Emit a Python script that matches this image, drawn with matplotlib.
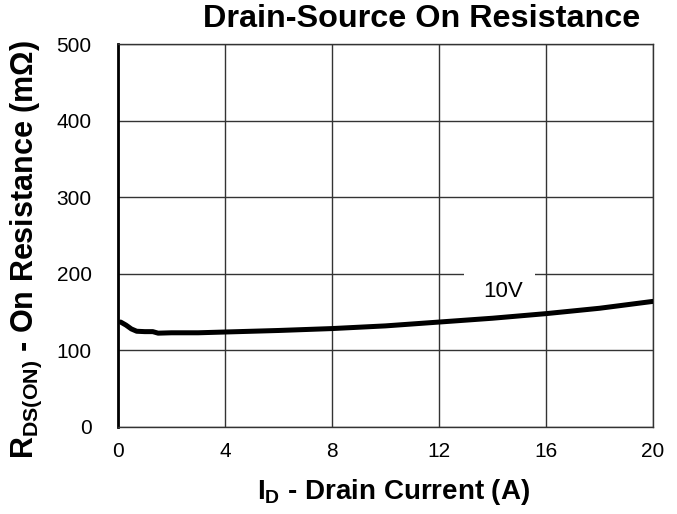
import numpy as np
import matplotlib
matplotlib.use("Agg")
import matplotlib.pyplot as plt

# данные кривой 10V
current_a = [0.1, 0.3, 0.5, 0.7, 1.0, 1.3, 1.5, 2, 3, 4, 6, 8, 10, 12, 14, 16, 18, 20]
rds_mohm = [137, 133, 128, 125, 124.5, 124.5, 122.5, 123, 123, 124, 126, 128.5,
            132, 137, 142, 148, 155, 164]
x_ticks = [0, 4, 8, 12, 16, 20]
y_ticks = [0, 100, 200, 300, 400, 500]
curve_label = "10V"

plt.rcParams['font.family'] = ['Liberation Sans', 'DejaVu Sans']
plt.rcParams['mathtext.fontset'] = 'custom'
plt.rcParams['mathtext.rm'] = 'Liberation Sans'
plt.rcParams['mathtext.bf'] = 'Liberation Sans:bold'

fig = plt.figure(figsize=(6.77, 5.14), dpi=100)
ax = fig.add_axes([118 / 677, 1 - 427 / 514, 535 / 677, 383 / 514])

ax.plot(current_a, rds_mohm, color='black', lw=3.6, solid_capstyle='round', zorder=4)
ax.set_xlim(0, 20)
ax.set_ylim(0, 500)
ax.set_xticks(x_ticks)
ax.set_yticks(y_ticks)
ax.tick_params(length=0, labelsize=15)
ax.tick_params(axis='y', pad=19)
ax.tick_params(axis='x', pad=11)
ax.grid(True, color='#333333', lw=1)
ax.set_axisbelow(True)
for side in ['top', 'right', 'bottom']:
    ax.spines[side].set_linewidth(1)
    ax.spines[side].set_color('#333333')
ax.spines['left'].set_linewidth(2)

ax.text(14.4, 177, curve_label, fontsize=16, ha='center', va='center', zorder=3)
# белая подложка под подписью (перекрывает линию сетки)
ax.add_patch(plt.Rectangle((12.95, 165), 2.65, 45, facecolor='white',
                           edgecolor='none', zorder=2))

fig.text(422 / 677, 1 - 19 / 514, 'Drain-Source On Resistance', fontsize=23.3,
         fontweight='bold', ha='center', va='center')
fig.text(394 / 677, 1 - 492 / 514, r'$\mathbf{I_D}$ - Drain Current (A)', fontsize=20,
         fontweight='bold', ha='center', va='center')
fig.text(26 / 677, 1 - 250 / 514,
         r'$\mathbf{R_{DS(ON)}}$ - On Resistance (m$\mathbf{\Omega}$)', fontsize=22,
         fontweight='bold', ha='center', va='center', rotation=90)

fig.savefig('out.png', dpi=100)
